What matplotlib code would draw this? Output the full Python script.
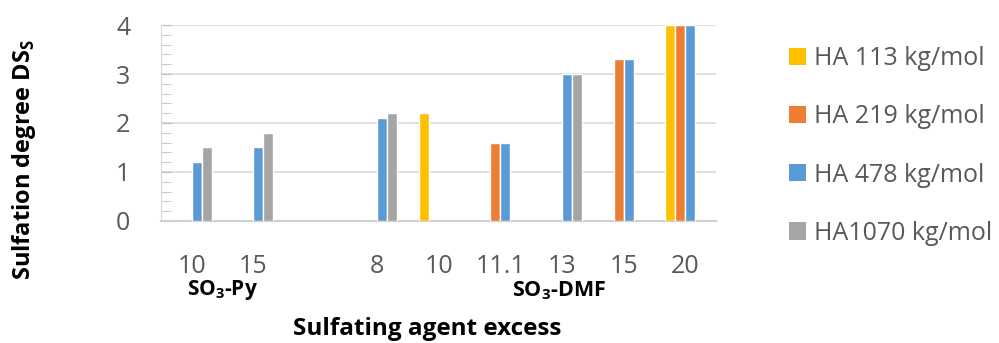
import matplotlib

matplotlib.use("Agg")
import matplotlib.pyplot as plt  # noqa: E402
import numpy as np  # noqa: E402
from matplotlib.patches import Patch  # noqa: E402

# categories (third slot is an empty spacer between the two reagent groups)
cat_labels = ["10", "15", "", "8", "10", "11.1", "13", "15", "20"]
series_names = ["HA 113 kg/mol", "HA 219 kg/mol", "HA 478 kg/mol", "HA1070 kg/mol"]
ha113 = [np.nan, np.nan, np.nan, np.nan, 2.2, np.nan, np.nan, np.nan, 4.0]
ha219 = [np.nan, np.nan, np.nan, np.nan, np.nan, 1.6, np.nan, 3.3, 4.0]
ha478 = [1.2, 1.5, np.nan, 2.1, np.nan, 1.6, 3.0, 3.3, 4.0]
ha1070 = [1.5, 1.8, np.nan, 2.2, np.nan, np.nan, 3.0, np.nan, np.nan]
colors = ["#FFC000", "#ED7D31", "#5B9BD5", "#A5A5A5"]

plt.rcParams["font.family"] = ["Open Sans", "DejaVu Sans"]
plt.rcParams["mathtext.fontset"] = "custom"
plt.rcParams["mathtext.rm"] = "Open Sans"
plt.rcParams["mathtext.bf"] = "Open Sans:bold"

text_grey = "#595959"
fig = plt.figure(figsize=(9.99, 3.43), dpi=100)
ax = fig.add_axes([0.161, 0.356, 0.556, 0.571])

x = np.arange(len(cat_labels))
w = 0.162
for i, (vals, col) in enumerate(zip([ha113, ha219, ha478, ha1070], colors)):
    ax.bar(x + (i - 1.5) * w, vals, width=w, color=col, edgecolor="white",
           linewidth=1.0, zorder=3, label=series_names[i])

ax.set_xlim(-0.5, len(cat_labels) - 0.5)
ax.set_ylim(0, 4)
ax.set_yticks([0, 1, 2, 3, 4])
ax.set_yticks(np.arange(0, 4.01, 0.2), minor=True)
ax.set_xticks(x)
ax.set_xticklabels(cat_labels)
ax.tick_params(axis="x", length=0, pad=24, labelsize=18, labelcolor=text_grey)
ax.tick_params(axis="y", which="both", direction="in", length=7, color="#BFBFBF",
               labelsize=18, labelcolor=text_grey, pad=22)
ax.grid(axis="y", which="major", color="#D9D9D9", linewidth=1.2, zorder=0)
for s in ["top", "right"]:
    ax.spines[s].set_visible(False)
ax.spines["left"].set_color("#D9D9D9")
ax.spines["bottom"].set_color("#D0D0D0")
ax.spines["bottom"].set_linewidth(1.5)

# reagent group labels under the ticks
ax.text(0.5, -0.355, r"SO$_\mathbf{3}$-Py", transform=ax.get_xaxis_transform(),
        ha="center", va="center", fontsize=15, fontweight="bold")
ax.text(5.95, -0.355, r"SO$_\mathbf{3}$-DMF", transform=ax.get_xaxis_transform(),
        ha="center", va="center", fontsize=15.5, fontweight="bold")

fig.text(0.428, 0.04, "Sulfating agent excess", ha="center", va="center",
         fontsize=17.5, fontweight="bold")
fig.text(0.024, 0.535, r"Sulfation degree DS$_\mathbf{S}$", ha="center", va="center",
         rotation=90, fontsize=17, fontweight="bold")

handles = [Patch(facecolor=c, edgecolor="none") for c in colors]
leg = fig.legend(handles, series_names, loc="upper left", bbox_to_anchor=(0.78, 0.895),
                 frameon=False, fontsize=18, handlelength=0.68, handleheight=0.68,
                 handletextpad=0.3, labelspacing=1.33, borderaxespad=0)
for t in leg.get_texts():
    t.set_color(text_grey)

fig.savefig("out.png", dpi=100)
